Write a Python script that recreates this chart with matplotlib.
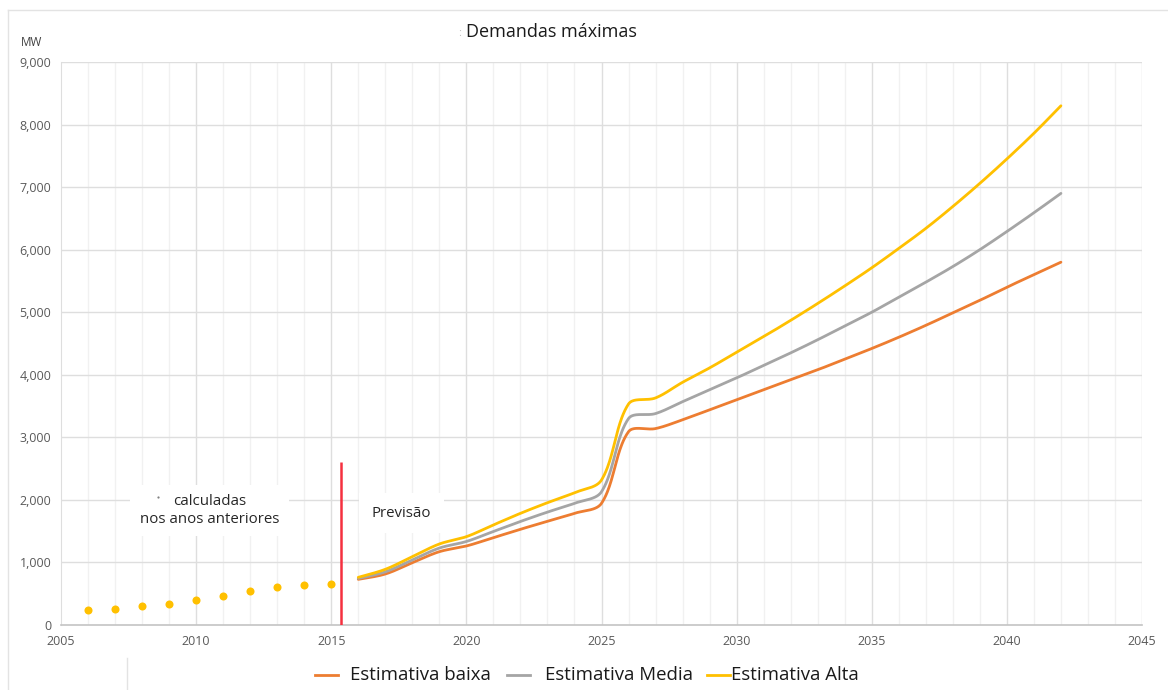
import numpy as np
import matplotlib
matplotlib.use("Agg")
import matplotlib.pyplot as plt
from matplotlib.lines import Line2D

# Historical peak demand (MW)
hist_years = list(range(2006, 2016))
hist_values = [240, 260, 310, 340, 400, 460, 540, 610, 645, 655]

# Forecast scenarios (MW)
fc_years = list(range(2016, 2043))
baixa = [730, 815, 996, 1172, 1263, 1396, 1530, 1658, 1785, 1945,
         3090, 3140, 3280, 3440, 3600, 3760, 3920, 4080, 4250, 4420,
         4600, 4790, 4990, 5190, 5400, 5600, 5800]
media = [745, 850, 1040, 1230, 1335, 1495, 1655, 1805, 1945, 2130,
         3300, 3380, 3570, 3760, 3950, 4150, 4350, 4560, 4780, 5000,
         5240, 5480, 5730, 6000, 6290, 6590, 6900]
alta = [762, 890, 1092, 1295, 1412, 1600, 1785, 1955, 2115, 2318,
        3533, 3630, 3880, 4110, 4360, 4610, 4870, 5140, 5420, 5710,
        6020, 6340, 6690, 7060, 7450, 7860, 8300]

series_labels = ["Estimativa baixa", "Estimativa Media", "Estimativa Alta"]
series_colors = ["#ED7D31", "#A5A5A5", "#FFC000"]

x_ticks = [2005, 2010, 2015, 2020, 2025, 2030, 2035, 2040, 2045]
y_ticks = list(range(0, 9001, 1000))
split_year = 2015.35
split_top = 2600

W, H = 1168, 690
AX_L, AX_R, AX_T, AX_B = 61, 1142, 62, 625
PX_PER_YEAR = (AX_R - AX_L) / 40
PX_PER_MW = (AX_B - AX_T) / 9000


def smooth(xs, ys, n=40):
    """Smoothed line through the points: cubic Bezier segments whose control
    points follow the neighbouring chord, scaled by segment length on screen."""
    xs = np.asarray(xs, float)
    ys = np.asarray(ys, float)
    px = np.concatenate([[xs[0]], xs, [xs[-1]]])
    py = np.concatenate([[ys[0]], ys, [ys[-1]]])

    def dist(i, j):
        return np.hypot((px[j] - px[i]) * PX_PER_YEAR, (py[j] - py[i]) * PX_PER_MW)

    out_x, out_y = [], []
    t = np.linspace(0, 1, n, endpoint=False)
    for i in range(1, len(px) - 2):
        d01, d12, d23 = dist(i - 1, i), dist(i, i + 1), dist(i + 1, i + 2)
        k1 = d12 / (d01 + d12) / 3 if d01 > 0 else 1 / 6
        k2 = d12 / (d12 + d23) / 3 if d23 > 0 else 1 / 6
        x0, x1, x2, x3 = px[i - 1:i + 3]
        y0, y1, y2, y3 = py[i - 1:i + 3]
        cx1, cy1 = x1 + (x2 - x0) * k1, y1 + (y2 - y0) * k1
        cx2, cy2 = x2 - (x3 - x1) * k2, y2 - (y3 - y1) * k2
        b0 = (1 - t) ** 3
        b1 = 3 * (1 - t) ** 2 * t
        b2 = 3 * (1 - t) * t ** 2
        b3 = t ** 3
        out_x.append(b0 * x1 + b1 * cx1 + b2 * cx2 + b3 * x2)
        out_y.append(b0 * y1 + b1 * cy1 + b2 * cy2 + b3 * y2)
    out_x.append([xs[-1]])
    out_y.append([ys[-1]])
    return np.concatenate(out_x), np.concatenate(out_y)


plt.rcParams["font.family"] = ["Open Sans", "DejaVu Sans"]

fig = plt.figure(figsize=(W / 100, H / 100), dpi=100)
ax = fig.add_axes([AX_L / W, 1 - AX_B / H, (AX_R - AX_L) / W, (AX_B - AX_T) / H])

ax.set_xlim(2005, 2045)
ax.set_ylim(0, 9000)

# grid: light yearly lines, stronger every 5 years and every 1000 MW
for yr in range(2006, 2045):
    if yr % 5:
        ax.axvline(yr, color="#f1f1f1", lw=1.0, zorder=0)
for yr in x_ticks[1:]:
    ax.axvline(yr, color="#dedede", lw=1.0, zorder=0)
for v in y_ticks[1:]:
    ax.axhline(v, color="#dedede", lw=1.0, zorder=0)

for s in ["top", "right"]:
    ax.spines[s].set_visible(False)
ax.spines["left"].set_color("#dedede")
ax.spines["bottom"].set_color("#c4c4c4")
ax.spines["bottom"].set_linewidth(1.2)

ax.set_xticks(x_ticks)
ax.set_yticks(y_ticks)
ax.set_yticklabels([f"{v:,}" for v in y_ticks])
ax.tick_params(length=0, labelsize=9, colors="#595959", pad=7)

# history dots
ax.plot(hist_years, hist_values, "o", color="#FFC000", ms=5.8, mec="none", zorder=3)

# forecast lines
for vals, col in zip([baixa, media, alta], series_colors):
    sx, sy = smooth(fc_years, vals)
    ax.plot(sx, sy, color=col, lw=2.0, solid_capstyle="round", zorder=3)

# split between history and forecast
ax.vlines(split_year, 0, split_top, color="#F5303F", lw=1.8, zorder=4)

ax.text(2010.5, 1830, "calculadas\nnos anos anteriores", ha="center", va="center",
        fontsize=10.8, color="#262626", linespacing=1.2, zorder=5,
        bbox=dict(fc="white", ec="none", pad=7))
# small stray mark left of the note
ax.plot([2008.6], [2045], "o", color="#808080", ms=1.6, mec="none", zorder=6)
ax.text(2017.6, 1790, "Previsão", ha="center", va="center", fontsize=10.8,
        color="#262626", zorder=5, bbox=dict(fc="white", ec="none", pad=9))

# title and unit
fig.text(551 / W, 1 - 32 / H, "Demandas máximas", ha="center", va="center",
         fontsize=13, color="#1a1a1a")
fig.text(460 / W, 1 - 34 / H, ":", ha="center", va="center", fontsize=8, color="#c0c0c0")
fig.text(32 / W, 1 - 42 / H, "MW", ha="center", va="center", fontsize=8.5, color="#404040")

# legend drawn below the plot
leg_y = 1 - 675 / H
legend_items = [((315, 338), 350), ((507, 530), 545), ((707, 730), 731)]
for ((lx0, lx1), tx), lab, col in zip(legend_items, series_labels, series_colors):
    fig.add_artist(Line2D([lx0 / W, lx1 / W], [leg_y, leg_y], color=col, lw=2.0,
                          transform=fig.transFigure))
    fig.text(tx / W, leg_y, lab, ha="left", va="center", fontsize=13.4, color="#1a1a1a")

# frame edges of the surrounding panel
fig.add_artist(Line2D([8 / W, 1], [1 - 10 / H, 1 - 10 / H], color="#e3e3e3", lw=1.0,
                      transform=fig.transFigure))
fig.add_artist(Line2D([8 / W, 8 / W], [0, 1 - 10 / H], color="#e3e3e3", lw=1.0,
                      transform=fig.transFigure))
fig.add_artist(Line2D([127 / W, 127 / W], [0, 1 - 658 / H], color="#e3e3e3", lw=1.0,
                      transform=fig.transFigure))

fig.savefig("out.png", dpi=100, facecolor="white")
